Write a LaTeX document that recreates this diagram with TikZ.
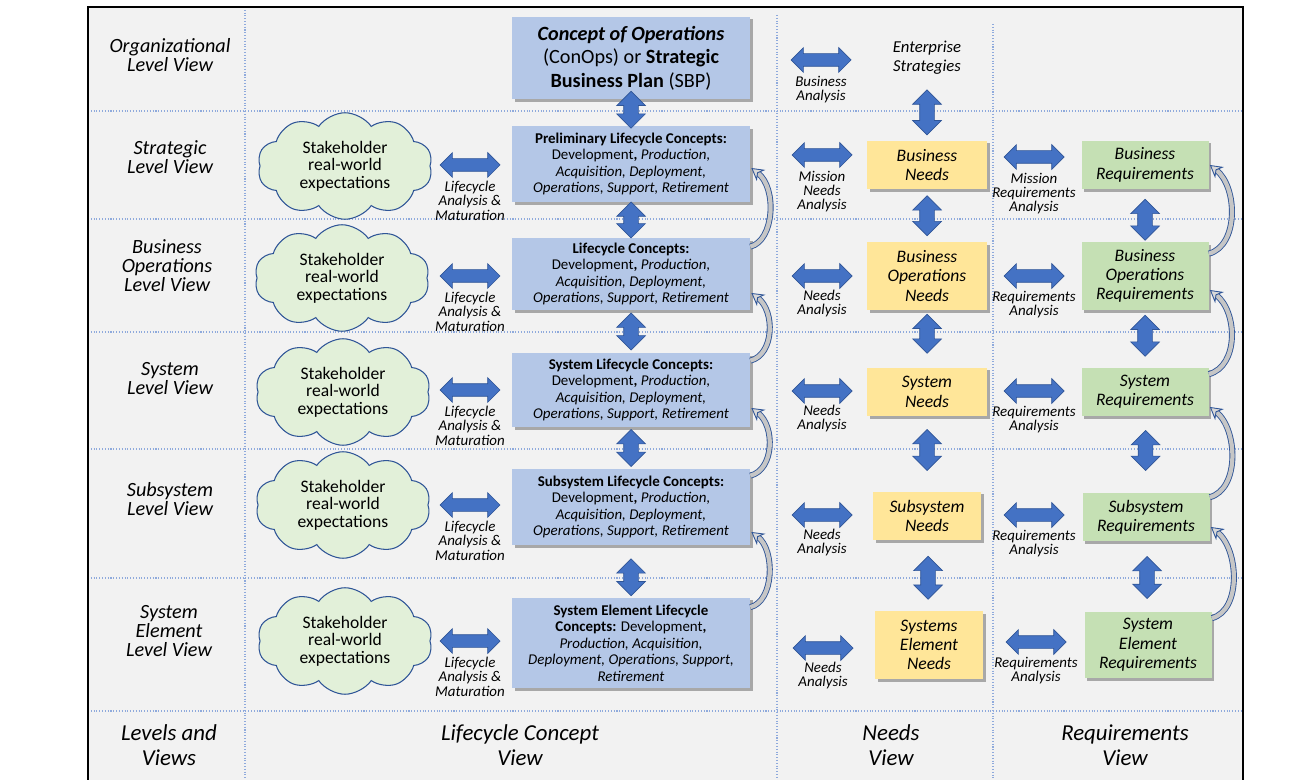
\documentclass[tikz,border=0pt]{standalone}
\usepackage{fontspec}
\setmainfont{Carlito}
\usetikzlibrary{arrows.meta,positioning,calc}
\usetikzlibrary{shapes.arrows,shapes.symbols,shadows}

\definecolor{arrfill}{HTML}{4472C4}
\definecolor{arrline}{HTML}{2F5597}
\definecolor{lcfill}{HTML}{B4C7E7}
\definecolor{needfill}{HTML}{FFE699}
\definecolor{reqfill}{HTML}{C5E0B4}
\definecolor{cloudfill}{HTML}{E2F0D9}
\definecolor{panel}{HTML}{F2F2F2}
\definecolor{gridline}{HTML}{8FAADC}

\newcommand{\lcrest}{Development\textbf{,} \textit{Production,}\\\textit{Acquisition, Deployment,}\\\textit{Operations, Support, Retirement}}
\newcommand{\stake}{Stakeholder\\real-world\\expectations}

\tikzset{
  shadowed/.style={drop shadow={shadow xshift=1.5pt,shadow yshift=-1.5pt,opacity=0.3,fill=black}},
  lcbox/.style={shadowed,fill=lcfill,align=center,minimum width=4.76cm,inner sep=1pt,font=\fontsize{8.5}{9.4}\selectfont},
  needbox/.style={shadowed,fill=needfill,align=center,inner sep=1pt,font=\itshape\fontsize{10}{11}\selectfont},
  reqbox/.style={shadowed,fill=reqfill,align=center,minimum width=2.54cm,inner sep=1pt,font=\itshape\fontsize{10}{11}\selectfont},
  sky/.style={cloud,cloud puffs=10,cloud puff arc=110,cloud ignores aspect,draw=arrline,fill=cloudfill,line width=0.6pt,minimum width=3.5cm,minimum height=1.78cm,align=center,font=\fontsize{10}{10}\selectfont},
  harrow/.style={double arrow,double arrow head extend=0.12cm,fill=arrfill,draw=arrline,line width=0.4pt,minimum height=1.2cm,minimum width=0.48cm,inner xsep=0pt,inner ysep=0.12cm},
  varrow/.style={harrow,rotate=90,double arrow head extend=0.14cm,minimum width=0.56cm,inner ysep=0.14cm},
  alabel/.style={align=center,inner sep=0pt,font=\itshape\fontsize{8.5}{8.2}\selectfont},
  lvl/.style={align=center,font=\itshape\fontsize{11.5}{10.8}\selectfont},
  foot/.style={align=center,font=\itshape\fontsize{13}{14}\selectfont},
  loopback/.style={draw=arrline,line width=0.5pt,double=gray!45,double distance=2.4pt,-{Stealth[length=7pt,width=8pt,open,fill=gray!30]}},
  gridrule/.style={gridline,densely dotted,line width=0.6pt}
}

\begin{document}
\begin{tikzpicture}[x=0.02cm,y=-0.02cm]

\useasboundingbox (0,0) rectangle (1308,780);

\fill[panel] (88,7) rectangle (1243,780);

\draw[gridrule] (245,7) -- (245,780);
\draw[gridrule] (777,15) -- (777,780);
\draw[gridrule] (993,24) -- (993,780);
\foreach \yy in {111,219,332,449,578,711}
  \draw[gridrule] (88,\yy) -- (1243,\yy);

\draw[line width=1.1pt] (88,780) -- (88,7);
\draw[line width=1.1pt] (1243,7) -- (1243,780);
\draw[line width=1.7pt] (87,7) -- (1244,7);

% levels
\node(lv0)[lvl] at (170,55) {Organizational\\Level View};
\node(lv1)[lvl] at (170,157) {Strategic\\Level View};
\node(lv2)[lvl] at (167,266) {Business\\Operations\\Level View};
\node(lv3)[lvl] at (170,379) {System\\Level View};
\node(lv4)[lvl] at (170,499) {Subsystem\\Level View};
\node(lv5)[lvl] at (169,631) {System\\Element\\Level View};

\node(ft0)[foot] at (169,745) {Levels and\\Views};
\node(ft1)[foot] at (520,745) {Lifecycle Concept\\View};
\node(ft2)[foot] at (891,745) {Needs\\View};
\node(ft3)[foot] at (1125,745) {Requirements\\View};

% lifecycle concepts
\node(conops)[lcbox,minimum height=1.66cm,font=\fontsize{11.5}{13.4}\selectfont] at (631,58) {\textbf{\textit{Concept of Operations}}\\(ConOps) or \textbf{Strategic}\\\textbf{Business Plan} (SBP)};
\node(lc1)[lcbox,minimum height=1.52cm] at (631,164) {\textbf{Preliminary Lifecycle Concepts:}\\\lcrest};
\node(lc2)[lcbox,minimum height=1.44cm] at (631,274) {\textbf{Lifecycle Concepts:}\\\lcrest};
\node(lc3)[lcbox,minimum height=1.48cm] at (631,390) {\textbf{System Lifecycle Concepts:}\\\lcrest};
\node(lc4)[lcbox,minimum height=1.52cm] at (631,507) {\textbf{Subsystem Lifecycle Concepts:}\\\lcrest};
\node(lc5)[lcbox,minimum height=1.82cm] at (631,643) {\textbf{System Element Lifecycle}\\\textbf{Concepts:} Development\textbf{,}\\\textit{Production, Acquisition,}\\\textit{Deployment, Operations, Support,}\\\textit{Retirement}};

\node(sk1)[sky] at (345,166) {\stake};
\node(sk2)[sky] at (342,278) {\stake};
\node(sk3)[sky] at (343,392) {\stake};
\node(sk4)[sky] at (343,505) {\stake};
\node(sk5)[sky] at (345,641) {\stake};

% needs
\node(es)[align=center,font=\itshape\fontsize{9.5}{10.6}\selectfont] at (927,58) {Enterprise\\Strategies};
\node(nd1)[needbox,minimum width=2.4cm,minimum height=0.98cm] at (927,165) {Business\\Needs};
\node(nd2)[needbox,minimum width=2.4cm,minimum height=1.36cm] at (927,276) {Business\\Operations\\Needs};
\node(nd3)[needbox,minimum width=2.4cm,minimum height=0.98cm] at (927,392) {System\\Needs};
\node(nd4)[needbox,minimum width=2.16cm,minimum height=0.98cm] at (927,516) {Subsystem\\Needs};
\node(nd5)[needbox,minimum width=2.16cm,minimum height=1.36cm] at (929,645) {Systems\\Element\\Needs};

% requirements
\node(rq1)[reqbox,minimum height=0.98cm] at (1145,165) {Business\\Requirements};
\node(rq2)[reqbox,minimum height=1.36cm] at (1145,276) {Business\\Operations\\Requirements};
\node(rq3)[reqbox,minimum height=0.98cm] at (1145,392) {System\\Requirements};
\node(rq4)[reqbox,minimum height=0.98cm] at (1146,517) {Subsystem\\Requirements};
\node(rq5)[reqbox,minimum height=1.34cm] at (1148,645) {System\\Element\\Requirements};

% side arrows
\node(la1)[harrow] at (470,165) {};
\node(la2)[harrow] at (470,276) {};
\node(la3)[harrow] at (470,390) {};
\node(la4)[harrow] at (470,505) {};
\node(la5)[harrow] at (470,641) {};

\node(na0)[harrow] at (821,60) {};
\node(na1)[harrow] at (822,155) {};
\node(na2)[harrow] at (822,276) {};
\node(na3)[harrow] at (822,391) {};
\node(na4)[harrow] at (822,515) {};
\node(na5)[harrow] at (823,648) {};

\node(ra1)[harrow] at (1034,157) {};
\node(ra2)[harrow] at (1034,276) {};
\node(ra3)[harrow] at (1034,391) {};
\node(ra4)[harrow] at (1034,515) {};
\node(ra5)[harrow] at (1036,642) {};

\foreach \i in {1,...,5}
  \node(ll\i)[alabel,below=5pt of la\i] {Lifecycle\\Analysis \&\\Maturation};

\node(nl0)[alabel,below=5pt of na0] {Business\\Analysis};
\node(nl1)[alabel,below=5pt of na1] {Mission\\Needs\\Analysis};
\foreach \i in {2,...,5}
  \node(nl\i)[alabel,below=4pt of na\i] {Needs\\Analysis};

\node(rl1)[alabel,below=5pt of ra1] {Mission\\Requirements\\Analysis};
\foreach \i in {2,...,5}
  \node(rl\i)[alabel,below=4.5pt of ra\i] {Requirements\\Analysis};

% up and down arrows
\node(up0)[varrow,minimum height=0.74cm] at ($(conops.south)!.5!(lc1.north)+(0,-3)$) {};
\node(up1)[varrow,minimum height=0.72cm] at ($(lc1.south)!.5!(lc2.north)$) {};
\node(up2)[varrow,minimum height=0.74cm] at ($(lc2.south)!.5!(lc3.north)$) {};
\node(up3)[varrow,minimum height=0.74cm] at ($(lc3.south)!.5!(lc4.north)$) {};
\node(up4)[varrow,minimum height=0.74cm] at ($(lc4.south)!.5!(lc5.north)+(0,6)$) {};

\node(un0)[varrow,minimum height=0.9cm] at ($(es.south)!.5!(nd1.north)+(0,2)$) {};
\node(un1)[varrow,minimum height=0.8cm] at ($(nd1.south)!.5!(nd2.north)$) {};
\node(un2)[varrow,minimum height=0.78cm] at ($(nd2.south)!.5!(nd3.north)+(0,-5)$) {};
\node(un3)[varrow,minimum height=0.82cm] at ($(nd3.south)!.5!(nd4.north)+(0,-4)$) {};
\node(un4)[varrow,minimum height=0.86cm] at ($(nd4.south)!.5!(nd5.north)+(0,2)$) {};

\node(ur1)[varrow,minimum height=0.82cm] at ($(rq1.south)!.5!(rq2.north)+(0,4)$) {};
\node(ur2)[varrow,minimum height=0.82cm] at ($(rq2.south)!.5!(rq3.north)+(0,-3)$) {};
\node(ur3)[varrow,minimum height=0.8cm] at ($(rq3.south)!.5!(rq4.north)+(0,-4)$) {};
\node(ur4)[varrow,minimum height=0.84cm] at ($(rq4.south)!.5!(rq5.north)+(0,1)$) {};

% loops back up
\draw[loopback] ($(lc2.north east)+(0,9)$) .. controls +(24,-6) and +(26,20) .. ($(lc1.east)+(1,4)$);
\draw[loopback] ($(lc3.north east)+(0,8)$) .. controls +(24,-6) and +(24,18) .. ($(lc2.east)+(1,19)$);
\draw[loopback] ($(lc4.north east)+(0,7)$) .. controls +(24,-6) and +(24,18) .. ($(lc3.east)+(1,18)$);
\draw[loopback] ($(lc5.north east)+(0,10)$) .. controls +(24,-6) and +(24,18) .. ($(lc4.east)+(1,25)$);

\draw[loopback] ($(rq2.north east)+(0,12)$) .. controls +(30,-8) and +(28,22) .. ($(rq1.east)+(1,0)$);
\draw[loopback] ($(rq3.north east)+(0,7)$) .. controls +(30,-8) and +(28,22) .. ($(rq2.east)+(1,14)$);
\draw[loopback] ($(rq4.north east)+(0,5)$) .. controls +(30,-8) and +(28,22) .. ($(rq3.east)+(1,15)$);
\draw[loopback] ($(rq5.north east)+(0,7)$) .. controls +(30,-8) and +(28,22) .. ($(rq4.east)+(1,10)$);

\end{tikzpicture}
\end{document}
